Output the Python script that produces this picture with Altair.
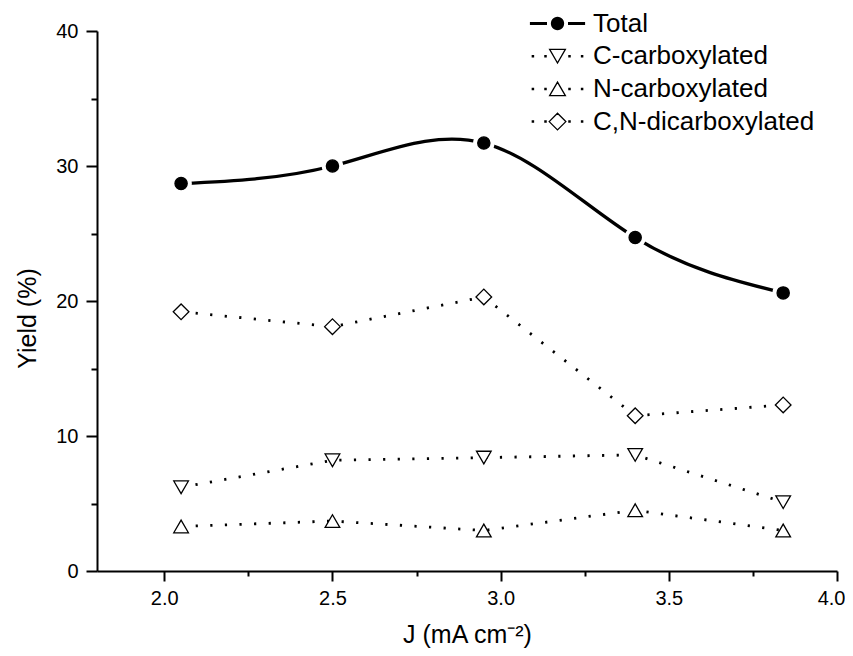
import math
import altair as alt
import pandas as pd

# ---- data ----
J = [2.05, 2.5, 2.95, 3.4, 3.84]
series_names = ["Total", "C-carboxylated", "N-carboxylated", "C,N-dicarboxylated"]
total = [28.7, 30.0, 31.7, 24.7, 20.6]
c_carb = [6.2, 8.2, 8.4, 8.6, 5.1]
n_carb = [3.3, 3.7, 3.0, 4.5, 3.0]
cn_dicarb = [19.2, 18.1, 20.3, 11.5, 12.3]

x_ticks = [2.0, 2.25, 2.5, 2.75, 3.0, 3.25, 3.5, 3.75, 4.0]
y_ticks = [0, 5, 10, 15, 20, 25, 30, 35, 40]

rows = []
for name, vals in zip(series_names, [total, c_carb, n_carb, cn_dicarb]):
    for j, v in zip(J, vals):
        rows.append({"J": j, "Yield": v, "series": name})
df = pd.DataFrame(rows)

FONT = "Liberation Sans"

# ---- legend glyphs (line + marker), in legend symbol units ----
def poly(pts):
    return "M" + "L".join(f"{x:.3f},{y:.3f}" for x, y in pts) + "Z"

def ring(r, n=28):
    return poly([(r * math.cos(2 * math.pi * k / n), r * math.sin(2 * math.pi * k / n)) for k in range(n)])

def dots(xs, s=0.1):
    return "".join(poly([(x - s, -s), (x + s, -s), (x + s, s), (x - s, s)]) for x in xs)

dot_x = [-4.1, -2.0, 2.0, 4.1]
a = 1.31
h = 0.866 * a
d = 1.39
total_glyph = "".join(f"M-4.6,{yy}H-1.75M1.75,{yy}H4.6" for yy in (-0.15, -0.05, 0.05, 0.15)) + \
    "".join(ring(r) for r in (1.0, 0.85, 0.7, 0.55, 0.4, 0.25, 0.1))
tri_down_glyph = dots(dot_x) + poly([(-a, -h), (a, -h), (0, h)])
tri_up_glyph = dots(dot_x) + poly([(0, -h), (-a, h), (a, h)])
diamond_glyph = dots(dot_x) + poly([(-d, 0), (0, -d), (d, 0), (0, d)])
legend_glyphs = [total_glyph, tri_down_glyph, tri_up_glyph, diamond_glyph]

x_axis = alt.Axis(
    values=x_ticks,
    labelExpr="(datum.value*2) % 1 == 0 ? format(datum.value, '.1f') : ''",
    tickSize={"condition": {"test": "(datum.value*2) % 1 == 0", "value": 10}, "value": 5},
    tickWidth=2, tickColor="black", domainWidth=2, domainColor="black",
    labelFont=FONT, labelFontSize=20, labelColor="black", labelPadding=7,
    labelOverlap=False, labelFlush=True, labelFlushOffset=8,
    grid=False,
    title="J (mA cm⁻²)", titleFont=FONT, titleFontSize=25, titleFontWeight="normal",
    titleColor="black", titleX=370, titleY=63, titleBaseline="middle", titleAlign="center",
)
y_axis = alt.Axis(
    values=y_ticks,
    labelExpr="datum.value % 10 == 0 ? datum.label : ''",
    tickSize={"condition": {"test": "datum.value % 10 == 0", "value": 11}, "value": 6},
    tickWidth=2, tickColor="black", domainWidth=2, domainColor="black",
    labelFont=FONT, labelFontSize=20, labelColor="black", labelPadding=8,
    labelOverlap=False, grid=False,
    title="Yield (%)", titleFont=FONT, titleFontSize=25, titleFontWeight="normal",
    titleColor="black", titleX=-70, titleY=287, titleBaseline="middle", titleAlign="center",
    titleAngle=270,
)

x_enc = alt.X("J:Q", scale=alt.Scale(domain=[1.8, 4.0], nice=False, zero=False), axis=x_axis)
y_enc = alt.Y("Yield:Q", scale=alt.Scale(domain=[0, 40], nice=False), axis=y_axis)

legend = alt.Legend(
    orient="none", legendX=447.5, legendY=-20.5, title=None, padding=0,
    symbolSize=144, symbolStrokeWidth=1.3, symbolOpacity=1,
    labelFont=FONT, labelFontSize=26, labelColor="black", labelOffset=22.5,
    labelLimit=500, rowPadding=6.7,
)

base = alt.Chart(df)

total_line = base.transform_filter(alt.datum.series == "Total").mark_line(
    interpolate="natural", color="black", strokeWidth=3.3
).encode(x=x_enc, y=y_enc)

other_lines = base.transform_filter(alt.datum.series != "Total").mark_line(
    color="black", strokeWidth=2.8, strokeDash=[2.2, 12.4]
).encode(x=x_enc, y=y_enc, detail="series:N")

halo = base.transform_filter(alt.datum.series == "Total").mark_point(
    shape="circle", filled=True, color="white", opacity=1, size=462
).encode(x=x_enc, y=y_enc)

marker_styles = {
    "Total": dict(shape="circle", fill="black", size=150),
    "C-carboxylated": dict(shape="triangle-down", fill="white", size=215),
    "N-carboxylated": dict(shape="triangle-up", fill="white", size=215),
    "C,N-dicarboxylated": dict(shape="diamond", fill="white", size=245),
}
marker_layers = []
for name in series_names:
    st = marker_styles[name]
    marker_layers.append(
        base.transform_filter(alt.datum.series == name).mark_point(
            shape=st["shape"], filled=True, fill=st["fill"], stroke="black",
            strokeWidth=1.3, opacity=1, size=st["size"]
        ).encode(x=x_enc, y=y_enc)
    )

# legend-only layer (no marks drawn): its shape scale carries the line+marker glyphs
legend_layer = base.transform_filter("false").mark_point(
    filled=True, fill="white", stroke="black", strokeWidth=1.3, opacity=1
).encode(
    x=x_enc, y=y_enc,
    shape=alt.Shape("series:N", scale=alt.Scale(domain=series_names, range=legend_glyphs), legend=legend),
)

chart = alt.layer(total_line, other_lines, halo, *marker_layers, legend_layer).properties(
    width=740, height=540,
    padding={"left": 89, "top": 23, "right": 8, "bottom": 77},
    autosize=alt.AutoSizeParams(type="none"),
    background="white",
).configure_view(stroke=None)

chart.save("out.html", embed_options={"renderer": "svg", "actions": False})
